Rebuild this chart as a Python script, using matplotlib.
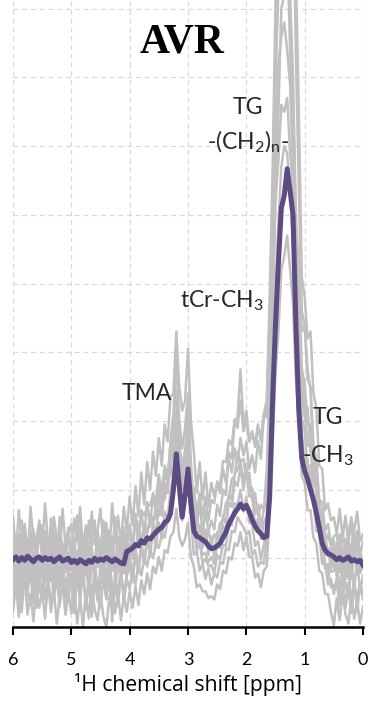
import numpy as np
import matplotlib
matplotlib.use("Agg")
import matplotlib.pyplot as plt

# chemical shift axis (ppm), 6.00 -> 0.00 in 0.05 steps
ppm = np.round(np.linspace(6.0, 0.0, 121), 2)

# mean spectrum (purple)
mean_spec = [
    0.98, 1.02, 0.96, 1.01, 0.97, 1.03, 0.99, 0.95, 1.00, 1.02,
    0.97, 1.01, 0.98, 1.00, 0.95, 0.99, 1.02, 0.96, 0.98, 1.00,
    0.94, 0.97, 0.93, 0.98, 0.95, 0.92, 0.97, 0.94, 1.00, 0.96,
    0.99, 0.97, 1.01, 0.98, 0.95, 0.99, 0.96, 0.93, 0.92, 1.10,
    1.12, 1.15, 1.20, 1.18, 1.26, 1.22, 1.30, 1.28, 1.33, 1.38,
    1.42, 1.45, 1.52, 1.55, 1.65, 2.00, 2.52, 2.05, 1.60, 1.92,
    2.30, 1.80, 1.40, 1.32, 1.30, 1.27, 1.24, 1.18, 1.14, 1.15,
    1.18, 1.22, 1.30, 1.38, 1.50, 1.58, 1.66, 1.72, 1.79, 1.72,
    1.77, 1.68, 1.56, 1.47, 1.40, 1.36, 1.30, 1.32, 1.90, 3.30,
    4.40, 5.30, 6.10, 6.28, 6.67, 6.35, 6.00, 4.40, 3.15, 2.46,
    2.27, 2.15, 2.00, 1.85, 1.66, 1.45, 1.22, 1.12, 1.07, 1.05,
    1.02, 0.98, 1.01, 0.97, 0.99, 1.02, 0.96, 0.98, 0.95, 0.97,
    0.90,
]

# individual subject spectra (grey)
subj_1 = [
    1.62, 1.05, 1.70, 1.20, 1.48, 0.98, 1.75, 1.25, 1.05, 1.55,
    1.15, 1.80, 1.22, 0.98, 1.60, 1.30, 1.05, 1.72, 1.18, 1.45,
    1.00, 1.58, 1.25, 1.75, 1.10, 1.48, 0.95, 1.68, 1.20, 1.42,
    1.72, 1.15, 1.52, 1.05, 1.80, 1.25, 1.62, 1.20, 1.75, 1.40,
    1.90, 1.48, 2.05, 1.62, 2.25, 1.78, 2.40, 2.00, 2.55, 2.20,
    2.75, 2.35, 2.95, 2.70, 3.35, 3.40, 4.30, 3.50, 3.15, 3.30,
    4.05, 3.00, 2.55, 1.95, 2.40, 1.85, 2.25, 1.75, 2.10, 1.90,
    2.10, 1.95, 2.30, 2.10, 2.45, 2.25, 2.60, 2.40, 2.75, 2.50,
    2.70, 2.30, 2.50, 2.25, 2.70, 2.45, 3.10, 3.30, 4.80, 6.60,
    9.10, 10.5, 12.8, 13.5, 14.4, 13.2, 12.3, 9.50, 7.50, 5.10,
    4.80, 4.20, 4.30, 3.40, 3.20, 2.35, 2.30, 1.70, 1.80, 1.55,
    1.60, 1.35, 1.72, 1.30, 1.62, 1.20, 1.55, 1.42, 1.68, 1.25,
    1.35,
]
subj_2 = [
    0.80, 1.35, 0.95, 1.55, 0.85, 1.28, 0.72, 1.42, 1.00, 1.30,
    1.48, 0.90, 1.25, 0.68, 1.38, 0.98, 1.60, 0.82, 1.20, 0.92,
    0.82, 1.28, 0.62, 1.45, 0.95, 1.32, 0.75, 1.20, 1.55, 0.88,
    1.25, 0.70, 1.40, 0.98, 0.82, 1.50, 0.92, 1.30, 0.78, 1.35,
    1.45, 1.00, 1.62, 1.20, 1.68, 1.32, 1.82, 1.45, 1.95, 1.65,
    2.10, 1.75, 2.25, 2.10, 2.65, 2.75, 3.45, 2.65, 2.35, 2.55,
    3.10, 2.15, 1.90, 1.45, 1.82, 1.35, 1.72, 1.38, 1.55, 1.42,
    1.78, 1.62, 2.00, 1.92, 2.55, 2.45, 3.00, 3.05, 3.75, 2.95,
    3.15, 2.70, 2.85, 2.62, 2.90, 2.75, 3.10, 3.05, 4.35, 5.80,
    8.00, 9.30, 11.0, 11.0, 10.8, 9.20, 8.00, 6.00, 5.10, 3.75,
    3.55, 2.95, 2.95, 2.25, 2.20, 1.65, 1.70, 1.22, 1.35, 1.18,
    1.25, 0.75, 1.35, 0.85, 1.28, 0.70, 1.18, 1.40, 0.80, 1.12,
    0.90,
]
subj_3 = [
    1.05, 0.55, 0.98, 0.48, 1.10, 0.62, 1.02, 0.50, 0.95, 0.68,
    0.52, 1.00, 0.65, 1.10, 0.45, 0.92, 0.60, 1.05, 0.42, 0.88,
    1.02, 0.58, 0.95, 0.40, 0.90, 1.05, 0.52, 0.85, 0.98, 0.48,
    0.88, 1.05, 0.55, 0.95, 0.62, 0.48, 1.00, 0.65, 1.08, 0.72,
    1.05, 0.75, 1.15, 0.85, 1.25, 0.92, 1.32, 1.02, 1.42, 1.15,
    1.52, 1.28, 1.68, 1.58, 1.98, 2.20, 2.85, 2.25, 2.00, 2.10,
    2.60, 1.80, 1.48, 1.12, 1.22, 1.05, 1.08, 0.95, 1.02, 0.92,
    1.22, 1.15, 1.48, 1.40, 1.82, 1.75, 2.12, 2.05, 2.35, 2.00,
    2.32, 1.90, 1.92, 1.45, 1.58, 1.28, 1.52, 1.62, 2.75, 4.40,
    6.40, 7.50, 9.00, 9.20, 9.80, 8.80, 7.80, 5.60, 4.40, 3.05,
    2.85, 2.30, 2.35, 1.85, 1.78, 1.30, 1.28, 0.85, 0.92, 0.80,
    0.82, 0.88, 0.52, 0.95, 0.62, 0.42, 0.90, 0.58, 1.00, 0.50,
    0.75,
]
subj_4 = [
    0.38, 0.85, 0.45, 0.22, 0.78, 0.50, 0.32, 0.82, 0.28, 0.70,
    0.90, 0.40, 0.75, 0.30, 0.65, 0.95, 0.35, 0.70, 0.25, 0.80,
    0.58, 0.20, 0.75, 0.38, 0.88, 0.32, 0.65, 0.15, 0.70, 0.40,
    0.28, 0.72, 0.42, 0.85, 0.35, 0.68, 0.30, 0.80, 0.45, 0.75,
    0.90, 0.65, 1.05, 0.78, 1.15, 0.92, 1.30, 1.08, 1.50, 1.38,
    1.72, 1.62, 2.05, 2.12, 2.72, 3.10, 3.90, 3.00, 2.60, 2.90,
    3.40, 2.40, 1.72, 1.22, 1.25, 0.92, 1.00, 0.88, 0.90, 0.78,
    1.05, 0.98, 1.20, 1.18, 1.50, 1.48, 1.80, 1.78, 2.00, 1.68,
    1.90, 1.52, 1.50, 1.18, 1.25, 0.98, 1.20, 1.42, 3.30, 5.50,
    8.10, 9.40, 11.2, 11.8, 12.6, 11.9, 11.0, 8.30, 6.40, 4.60,
    4.40, 3.75, 3.45, 2.50, 2.12, 1.45, 1.32, 0.88, 0.85, 0.58,
    0.60, 0.65, 0.32, 0.70, 0.28, 0.65, 0.38, 0.75, 0.22, 0.62,
    0.45,
]
subj_5 = [
    0.22, 0.62, 0.15, 0.55, 0.70, 0.18, 0.48, 0.08, 0.60, 0.28,
    0.52, 0.12, 0.68, 0.22, 0.55, 0.05, 0.45, 0.62, 0.18, 0.50,
    0.20, 0.58, 0.05, 0.42, 0.00, 0.52, 0.12, 0.62, 0.25, 0.10,
    0.48, 0.15, 0.00, 0.42, 0.58, 0.20, 0.50, 0.10, 0.45, 0.22,
    0.52, 0.28, 0.60, 0.32, 0.68, 0.48, 0.78, 0.55, 0.88, 0.78,
    1.02, 0.82, 1.12, 1.08, 1.32, 1.38, 1.72, 1.32, 1.18, 1.28,
    1.52, 1.02, 0.88, 0.58, 0.62, 0.52, 0.52, 0.42, 0.45, 0.40,
    0.62, 0.55, 0.82, 0.78, 1.02, 0.98, 1.22, 1.18, 1.38, 1.12,
    1.32, 1.02, 1.02, 0.72, 0.78, 0.58, 0.82, 0.88, 1.68, 2.62,
    3.70, 4.30, 5.20, 5.40, 5.70, 5.20, 4.70, 3.60, 3.00, 2.20,
    2.10, 1.70, 1.70, 1.30, 1.22, 0.82, 0.78, 0.48, 0.48, 0.22,
    0.02, 0.42, 0.10, 0.50, 0.18, 0.05, 0.45, 0.12, 0.38, 0.05,
    0.30,
]
subj_6 = [
    1.45, 0.92, 1.35, 0.82, 1.50, 1.02, 1.40, 0.88, 1.30, 1.52,
    0.98, 1.40, 0.85, 1.58, 1.05, 0.92, 1.45, 1.12, 0.80, 1.35,
    1.50, 1.02, 1.62, 0.88, 1.35, 0.98, 1.55, 1.08, 0.92, 1.40,
    1.12, 1.55, 0.92, 1.40, 1.02, 1.60, 1.15, 0.90, 1.45, 1.05,
    1.50, 1.18, 1.65, 1.38, 1.70, 1.62, 1.75, 1.78, 1.92, 1.85,
    2.22, 1.95, 2.35, 2.20, 2.52, 2.50, 3.10, 2.45, 2.32, 2.35,
    2.82, 2.10, 2.02, 1.65, 1.95, 1.60, 1.90, 1.55, 1.85, 1.80,
    2.12, 2.05, 2.42, 2.40, 2.72, 2.65, 3.02, 2.90, 3.30, 2.85,
    3.00, 2.70, 2.82, 2.65, 2.95, 2.70, 3.05, 3.20, 4.50, 6.30,
    8.40, 9.70, 10.8, 10.2, 10.0, 8.40, 7.40, 5.80, 5.20, 4.30,
    4.40, 3.60, 3.50, 2.65, 2.45, 1.85, 1.82, 1.40, 1.50, 1.20,
    1.32, 1.35, 1.00, 1.45, 0.92, 1.35, 1.60, 0.98, 1.40, 1.05,
    1.25,
]
subj_7 = [
    0.62, 1.15, 0.75, 1.25, 0.58, 1.05, 1.30, 0.68, 1.10, 0.52,
    1.02, 1.25, 0.62, 1.08, 1.35, 0.72, 1.15, 0.60, 1.20, 0.78,
    1.22, 0.68, 1.10, 0.55, 1.30, 0.80, 0.62, 1.15, 0.70, 1.25,
    0.75, 1.20, 0.65, 1.05, 1.32, 0.70, 1.15, 0.78, 1.22, 0.88,
    1.20, 1.12, 1.15, 1.22, 1.35, 1.38, 1.45, 1.48, 1.60, 1.58,
    1.92, 1.65, 2.08, 1.95, 2.42, 2.60, 3.20, 2.50, 2.22, 2.40,
    2.90, 2.00, 1.68, 1.30, 1.48, 1.15, 1.42, 1.05, 1.32, 1.00,
    1.38, 1.25, 1.62, 1.50, 1.92, 1.85, 2.22, 2.30, 2.42, 2.10,
    2.38, 1.95, 2.02, 1.65, 1.78, 1.45, 1.72, 1.80, 3.10, 4.70,
    6.20, 6.80, 7.60, 7.50, 7.70, 6.90, 6.40, 5.10, 4.30, 3.30,
    3.15, 2.65, 2.62, 2.10, 2.02, 1.50, 1.48, 1.05, 1.15, 0.85,
    1.20, 0.75, 1.15, 0.65, 1.08, 1.25, 0.70, 1.05, 1.30, 0.78,
    0.92,
]
subj_8 = [
    1.20, 0.78, 1.10, 0.70, 1.28, 0.85, 1.18, 0.75, 1.25, 0.90,
    0.72, 1.15, 0.88, 1.30, 0.80, 1.12, 0.65, 1.22, 0.95, 1.08,
    0.85, 1.25, 0.78, 1.18, 0.68, 1.32, 0.90, 1.05, 0.72, 1.20,
    1.05, 0.80, 1.22, 0.72, 1.15, 0.88, 1.30, 0.82, 1.02, 1.18,
    1.00, 1.30, 1.08, 1.40, 1.22, 1.52, 1.35, 1.62, 1.48, 1.75,
    1.62, 1.90, 1.85, 2.15, 2.20, 2.80, 3.30, 2.70, 2.05, 2.60,
    2.75, 2.25, 1.58, 1.60, 1.38, 1.48, 1.25, 1.40, 1.18, 1.35,
    1.28, 1.52, 1.55, 1.80, 1.88, 2.15, 2.20, 2.55, 2.40, 2.45,
    2.15, 2.25, 1.85, 1.95, 1.62, 1.78, 1.70, 2.30, 3.60, 5.20,
    6.80, 8.20, 8.60, 8.80, 8.40, 7.90, 6.60, 5.50, 4.00, 3.80,
    3.05, 3.20, 2.55, 2.50, 1.90, 1.85, 1.35, 1.38, 1.02, 1.15,
    0.85, 1.22, 0.80, 1.15, 0.70, 1.05, 0.88, 1.25, 0.75, 1.10,
    0.88,
]
subj_9 = [
    0.85, 0.45, 0.78, 0.38, 0.90, 0.52, 0.82, 0.35, 0.75, 0.58,
    0.40, 0.80, 0.55, 0.92, 0.42, 0.72, 0.30, 0.85, 0.60, 0.48,
    0.78, 0.35, 0.70, 0.55, 0.88, 0.25, 0.75, 0.45, 0.82, 0.38,
    0.62, 0.85, 0.40, 0.78, 0.08, 0.72, 0.48, 0.88, 0.35, 0.70,
    0.55, 0.85, 0.62, 0.92, 0.75, 1.00, 0.88, 1.12, 1.00, 1.22,
    1.15, 1.35, 1.30, 1.55, 1.62, 2.00, 2.40, 1.95, 1.55, 1.85,
    2.05, 1.60, 1.05, 1.10, 0.82, 0.92, 0.70, 0.85, 0.62, 0.78,
    0.72, 0.95, 0.92, 1.15, 1.12, 1.40, 1.38, 1.60, 1.52, 1.45,
    1.35, 1.40, 1.05, 1.12, 0.88, 0.95, 0.92, 1.30, 2.20, 3.60,
    4.80, 5.90, 6.70, 7.00, 6.90, 6.30, 5.60, 4.40, 3.50, 2.80,
    2.40, 2.45, 1.95, 1.90, 1.40, 1.38, 0.92, 0.95, 0.62, 0.70,
    0.48, 0.72, 0.35, 0.68, 0.30, 0.62, 0.20, 0.58, 0.42, 0.65,
    0.40,
]
subjects = [subj_1, subj_2, subj_3, subj_4, subj_5, subj_6, subj_7, subj_8, subj_9]

xticks = [6, 5, 4, 3, 2, 1, 0]
title = "AVR"
labels = [  # (text, ppm, height)
    ("TG", 1.97, 7.46),
    ("-(CH$_2$)$_n$-", 1.97, 6.95),
    ("tCr-CH$_3$", 2.42, 4.65),
    ("TMA", 3.70, 3.31),
    ("TG", 0.60, 2.95),
    ("-CH$_3$", 0.60, 2.40),
]

plt.rcParams['font.family'] = ['Lato', 'DejaVu Sans']
plt.rcParams['mathtext.default'] = 'regular'

fig = plt.figure(figsize=(3.71, 7.02), dpi=100)
ax = fig.add_axes([13 / 371, (702 - 627) / 702, 350 / 371, 627 / 702])

for s in subjects:
    ax.plot(ppm, s, color='#c0c0c0', lw=1.8, solid_joinstyle='round', zorder=2)
ax.plot(ppm, mean_spec, color='#5d4b84', lw=3.6, solid_joinstyle='round', zorder=3)

ax.set_xlim(6, 0)
ax.set_ylim(0, 627 / 68.7)
ax.set_xticks(xticks)
ax.set_xticklabels([str(t) for t in xticks], fontsize=13)
ax.set_yticks(range(0, 10))
ax.tick_params(axis='y', length=0, labelleft=False)
ax.tick_params(axis='x', direction='out', length=6, width=1.5, pad=12, colors='black')
for sp in ['left', 'right', 'top']:
    ax.spines[sp].set_visible(False)
ax.spines['bottom'].set_linewidth(1.8)
ax.spines['bottom'].set_zorder(5)
ax.grid(True, color='#d9d9d9', linestyle=(0, (4, 3)), linewidth=0.9, zorder=0)
ax.set_axisbelow(True)
ax.set_xlabel("¹H chemical shift [ppm]", fontsize=15.2, labelpad=3.5,
              family=['Open Sans', 'DejaVu Sans'])

ax.text(3.10, 8.36, title, family='Liberation Serif', fontweight='bold',
        fontsize=30, ha='center', va='baseline', zorder=6)
for txt, xx, yy in labels:
    ax.text(xx, yy, txt, fontsize=16.5, ha='center', va='baseline',
            color='#262626', zorder=6)

fig.savefig('out.png', dpi=100)
